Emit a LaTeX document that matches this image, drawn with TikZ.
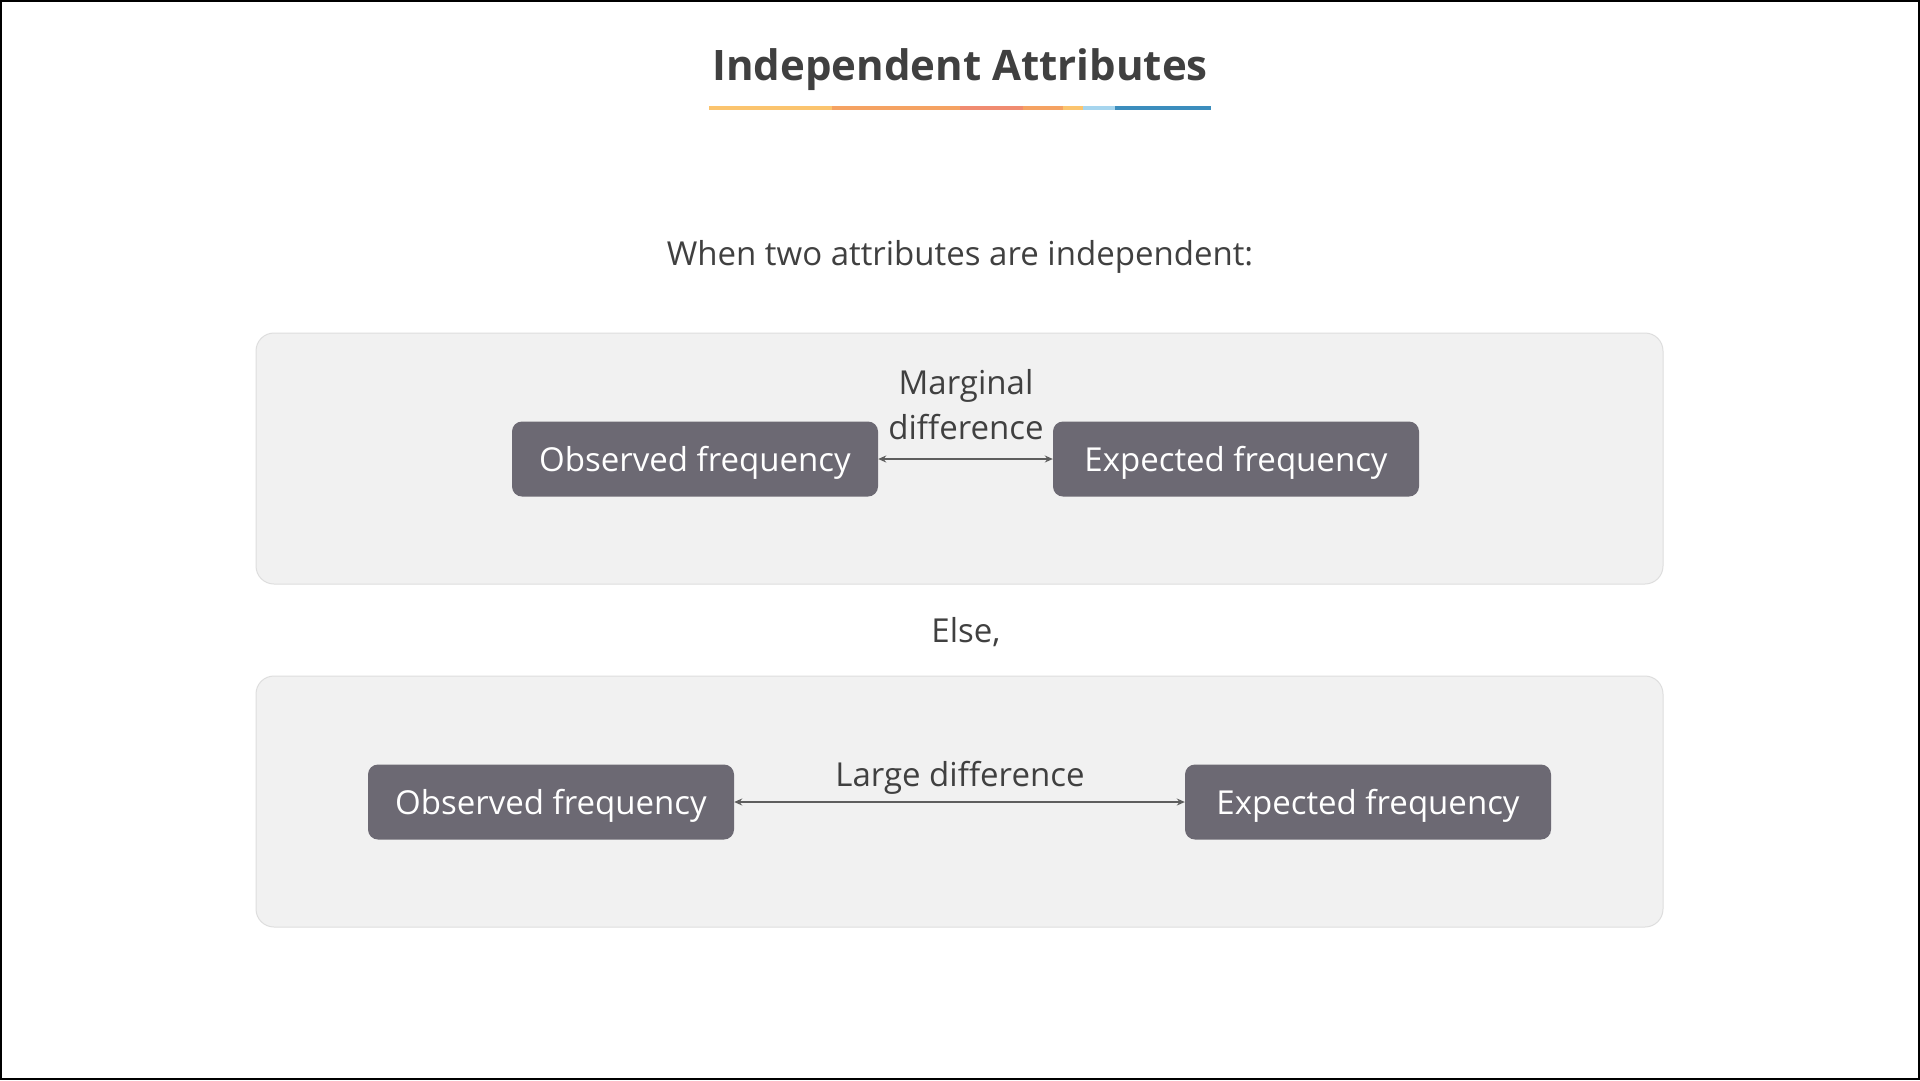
\documentclass[tikz,border=0pt]{standalone}
\usepackage{fontspec}
\setmainfont{Open Sans}
\usetikzlibrary{arrows.meta}
\definecolor{txt}{HTML}{404040}
\definecolor{panelfill}{HTML}{F1F1F1}
\definecolor{panelline}{HTML}{DEDEDE}
\definecolor{boxfill}{HTML}{6C6973}
\definecolor{arrowc}{HTML}{5E5E5E}
\definecolor{ulA}{HTML}{FBC46E}
\definecolor{ulB}{HTML}{F5A262}
\definecolor{ulC}{HTML}{F08B70}
\definecolor{ulD}{HTML}{A6D5EE}
\definecolor{ulE}{HTML}{3B8DBD}
\tikzset{
  panel/.style={draw=panelline, line width=1pt, fill=panelfill, rounded corners=18pt},
  freqbox/.style={fill=boxfill, rounded corners=10pt, minimum width=366pt, minimum height=75pt,
    text=white, font=\fontsize{33}{40}\selectfont, inner sep=0pt, text depth=0pt},
  plain/.style={text=txt, font=\fontsize{33}{45}\selectfont, inner sep=0pt, align=center},
  twoway/.style={draw=arrowc, line width=2.4pt, {Stealth[length=8pt,width=7pt]}-{Stealth[length=8pt,width=7pt]}},
  ulseg/.style={line width=4pt}
}
\begin{document}
\begin{tikzpicture}[x=1pt,y=-1pt]
  % page frame
  \draw[fill=white, draw=black, line width=2pt] (1,1) rectangle (1919,1079);
  \useasboundingbox (0,0) rectangle (1920,1080);

  % title and coloured underline
  \node[text=txt, font=\fontsize{42}{50}\selectfont\bfseries, inner sep=0pt] (title) at (960,70) {Independent Attributes};
  \draw[ulseg, ulA] (709,108) -- (832,108);
  \draw[ulseg, ulB] (832,108) -- (960,108);
  \draw[ulseg, ulC] (960,108) -- (1023,108);
  \draw[ulseg, ulB] (1023,108) -- (1063,108);
  \draw[ulseg, ulA] (1063,108) -- (1083,108);
  \draw[ulseg, ulD] (1083,108) -- (1115,108);
  \draw[ulseg, ulE] (1115,108) -- (1211,108);

  \node[plain] (intro) at (960,257) {When two attributes are independent:};

  % first panel
  \draw[panel] (256,333) rectangle (1663,584);
  \node[freqbox] (obs1) at (695,459) {Observed frequency};
  \node[freqbox] (exp1) at (1236,459) {Expected frequency};
  \node[plain] (marg) at (966,405) {Marginal\\difference};
  \draw[twoway] (obs1.east) -- (exp1.west);

  \node[plain] (else) at (966,632) {Else,};

  % second panel
  \draw[panel] (256,676) rectangle (1663,927);
  \node[freqbox] (obs2) at (551,802) {Observed frequency};
  \node[freqbox] (exp2) at (1368,802) {Expected frequency};
  \node[plain] (large) at (960,778) {Large difference};
  \draw[twoway] (obs2.east) -- (exp2.west);
\end{tikzpicture}
\end{document}
